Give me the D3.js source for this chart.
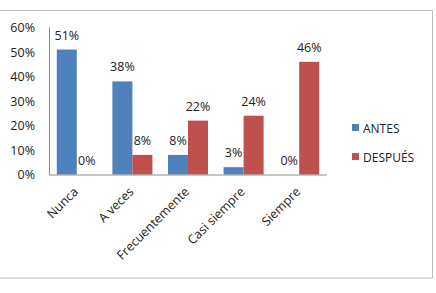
<!DOCTYPE html>
<html>
<head>
<meta charset="utf-8">
<script src="https://cdn.jsdelivr.net/npm/d3@7"></script>
<style>
  body { margin: 0; background: #fff; }
  svg { display: block; font-family: "Open Sans", "Liberation Sans", sans-serif; }
</style>
</head>
<body>
<div id="chart"></div>
<script>
const categories = ["Nunca", "A veces", "Frecuentemente", "Casi siempre", "Siempre"];
const seriesNames = ["ANTES", "DESPUÉS"];
const antes = [51, 38, 8, 3, 0];
const despues = [0, 8, 22, 24, 46];
const yTicks = [0, 10, 20, 30, 40, 50, 60];
const colors = ["#4F81BD", "#C0504D"];

const width = 436, height = 293;
const plot = { left: 49, right: 327, top: 27.5, bottom: 174.5 };

const svg = d3.select("#chart").append("svg")
    .attr("width", width)
    .attr("height", height);

// outer frame
svg.append("rect")
    .attr("x", -1).attr("y", 10.5)
    .attr("width", 433.5).attr("height", 267.5)
    .attr("fill", "none")
    .attr("stroke", "#bdbdbd")
    .attr("stroke-width", 1);

const x = d3.scaleBand()
    .domain(categories)
    .range([plot.left, plot.right])
    .paddingInner(0.28)
    .paddingOuter(0.14);

const xs = d3.scaleBand()
    .domain(seriesNames)
    .range([0, x.bandwidth()]);

const y = d3.scaleLinear()
    .domain([0, 60])
    .range([plot.bottom, plot.top]);

// y axis labels
const yAxis = d3.axisLeft(y)
    .tickValues(yTicks)
    .tickSize(0)
    .tickPadding(14)
    .tickFormat(d => d + "%");

svg.append("g")
    .attr("transform", `translate(${plot.left},0)`)
    .call(yAxis)
    .call(g => g.select(".domain").remove())
    .selectAll("text")
    .attr("font-size", 12.5)
    .attr("fill", "#222")
    .attr("font-family", "Open Sans, sans-serif");

const rows = categories.map((c, i) => ({ c, vals: [antes[i], despues[i]] }));

const groups = svg.append("g").selectAll("g")
    .data(rows)
    .join("g")
    .attr("transform", d => `translate(${x(d.c)},0)`);

groups.selectAll("rect")
    .data(d => d.vals.map((v, j) => ({ v, s: seriesNames[j], j })))
    .join("rect")
    .attr("x", d => xs(d.s))
    .attr("y", d => y(d.v))
    .attr("width", xs.bandwidth())
    .attr("height", d => y(0) - y(d.v))
    .attr("fill", d => colors[d.j]);

groups.selectAll("text")
    .data(d => d.vals.map((v, j) => ({ v, s: seriesNames[j], j })))
    .join("text")
    .attr("x", d => xs(d.s) + xs.bandwidth() / 2)
    .attr("y", d => y(d.v) - 10)
    .attr("text-anchor", "middle")
    .attr("font-size", 12.5)
    .attr("fill", "#222")
    .text(d => d.v + "%");

// axis lines
svg.append("line")
    .attr("x1", plot.left + 0.5).attr("x2", plot.left + 0.5)
    .attr("y1", plot.top).attr("y2", plot.bottom)
    .attr("stroke", "#8c8c8c");
svg.append("line")
    .attr("x1", plot.left).attr("x2", plot.right)
    .attr("y1", plot.bottom + 0.5).attr("y2", plot.bottom + 0.5)
    .attr("stroke", "#8c8c8c");

// x category labels, rotated
svg.append("g").selectAll("text")
    .data(categories)
    .join("text")
    .attr("transform", d => `translate(${x(d) + x.bandwidth() / 2 + 2},${plot.bottom + 18}) rotate(-45)`)
    .attr("text-anchor", "end")
    .attr("font-size", 12.5)
    .attr("fill", "#222")
    .text(d => d);

// legend
const legend = svg.append("g").selectAll("g")
    .data(seriesNames)
    .join("g")
    .attr("transform", (d, i) => `translate(352,${128 + i * 29})`);

legend.append("rect")
    .attr("x", 0).attr("y", -4)
    .attr("width", 7).attr("height", 7)
    .attr("fill", (d, i) => colors[i]);

legend.append("text")
    .attr("x", 11).attr("y", 4.5)
    .attr("font-size", 12)
    .attr("fill", "#222")
    .text(d => d);
</script>
</body>
</html>
